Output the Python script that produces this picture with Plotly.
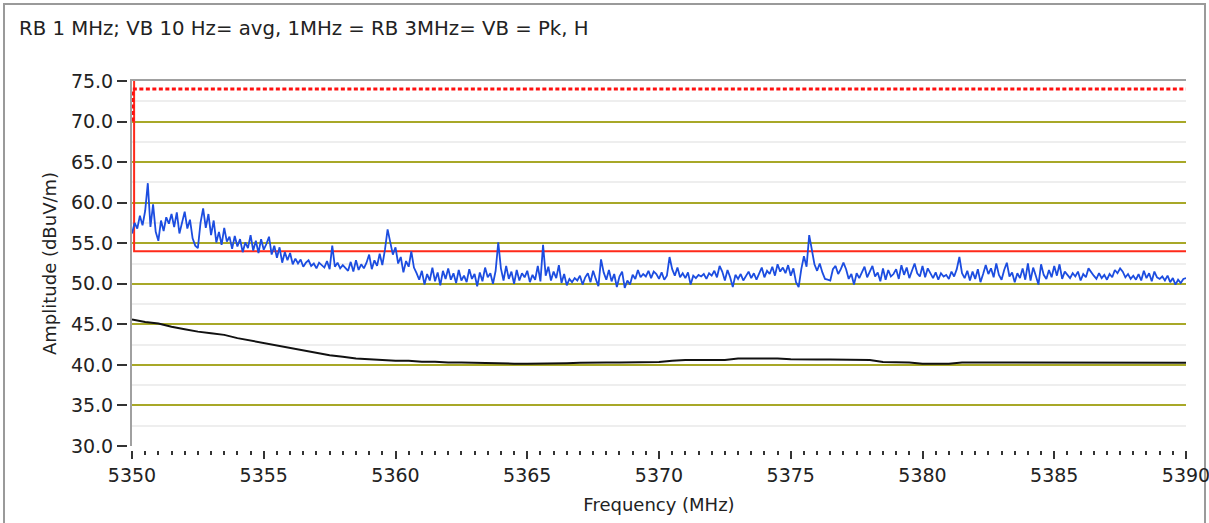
import numpy as np
import plotly.graph_objects as go

# ---- data -------------------------------------------------------------
# Peak sweep, 5350-5390 MHz in 0.1 MHz steps (dBuV/m)
peak_start_mhz = 5350.0
peak_step_mhz = 0.1
peak_level = [
    56.2, 57.5, 56.8, 58.4, 57.2, 59.0, 62.4, 57.0, 59.8, 56.4,
    55.3, 57.8, 56.5, 58.2, 57.4, 58.6, 57.0, 58.8, 56.2, 57.6,
    58.9, 56.8, 57.9, 55.6, 54.7, 54.4, 57.5, 59.3, 56.9, 58.6,
    56.0, 57.8, 55.1, 56.4, 54.8, 56.9, 55.2, 55.8, 54.3, 55.9,
    54.6, 55.5, 53.9, 55.1, 54.4, 56.0, 54.1, 55.3, 53.8, 55.5,
    54.2, 54.9, 55.8, 53.6, 54.7, 53.2, 54.5, 52.6, 53.9, 52.9,
    53.8, 52.4, 53.1, 52.5, 53.0, 52.1, 52.6, 52.9, 52.2, 52.5,
    51.9, 52.6, 52.3, 52.0, 52.8, 51.8, 54.7, 52.1, 52.6, 51.9,
    52.3, 52.0, 51.6, 52.7, 51.5, 52.9, 51.7, 52.4, 51.9, 52.6,
    53.6, 51.8, 52.9, 52.2, 53.7, 52.3, 54.2, 56.7, 55.0, 53.6,
    54.5, 52.5, 53.3, 51.4, 52.8, 52.1, 54.0, 52.0, 51.3, 50.5,
    51.6, 49.9, 51.2, 50.4, 52.0, 50.3, 51.4, 49.8, 51.6, 50.6,
    51.9, 50.5, 51.3, 50.1, 51.7, 50.4, 51.0, 50.2, 51.8, 50.6,
    51.2, 49.7, 51.4, 50.3, 52.0, 50.8, 51.3, 50.0, 51.6, 55.1,
    51.9, 50.4, 52.2, 50.6, 51.5, 50.0, 51.7, 50.4, 51.3, 50.8,
    51.6, 50.2, 51.1, 50.5, 52.2, 50.3, 54.8, 51.0, 52.1, 50.4,
    51.5, 50.7, 52.3, 50.1, 51.2, 49.8, 50.6, 50.2, 50.7, 50.4,
    51.0, 49.9, 50.8, 51.3, 50.2, 51.6, 50.6, 49.7, 53.0, 51.4,
    50.5, 51.7, 50.3, 51.2, 49.6, 50.9, 51.5, 49.5, 50.4, 49.9,
    51.1, 50.6, 51.7, 50.8, 51.2, 50.9, 51.6, 50.7, 51.5, 51.2,
    50.6, 51.4, 50.5, 51.0, 53.3, 51.8, 51.0, 52.0, 50.8, 51.3,
    50.7, 51.4, 49.9, 51.0, 50.7, 51.1, 50.9, 51.2, 50.6, 51.3,
    51.0, 51.6, 50.8, 52.2, 51.5, 50.4, 51.7, 50.8, 49.6, 51.1,
    50.6, 51.2, 50.4, 51.0, 51.5, 50.7, 51.3, 50.5, 51.2, 52.0,
    50.8, 51.6, 51.2, 52.1, 51.0, 52.4, 51.5, 52.0, 51.3, 52.3,
    51.0, 51.9, 50.2, 49.6, 51.8, 53.4, 52.1, 56.0, 54.2, 52.4,
    51.6, 52.5, 51.4, 50.6, 50.5, 50.4, 51.8, 52.2, 51.2, 51.8,
    52.6, 51.8, 50.6, 51.2, 49.9, 51.3, 50.7, 51.5, 52.1, 50.8,
    51.6, 52.2, 50.9, 51.4, 50.3, 51.9, 50.5, 51.7, 50.9, 51.2,
    51.8, 50.6, 52.3, 51.1, 52.0, 50.7, 51.6, 52.5, 51.3, 50.9,
    52.2, 50.8, 51.9, 51.2, 50.7, 51.4, 50.5, 51.3, 50.9, 51.1,
    50.6, 51.5, 50.9, 51.8, 53.3, 51.3, 50.7, 51.6, 50.4, 51.5,
    50.6, 51.8, 50.2, 51.2, 52.3, 51.2, 51.9, 50.8, 52.5, 51.1,
    50.5, 51.7, 52.6, 50.9, 51.4, 50.2, 51.3, 50.7, 51.9, 50.5,
    52.5, 50.4, 52.0, 51.0, 49.9, 52.4, 51.1, 50.6, 51.7, 50.8,
    52.2, 51.0, 52.4, 50.6, 51.5, 51.1, 50.7, 51.3, 50.9, 51.5,
    50.4, 51.2, 50.8, 51.9, 51.4, 51.0, 50.6, 51.3, 50.7, 51.1,
    50.5, 51.2, 50.8, 51.7, 51.3, 51.9, 51.5, 50.8, 51.2, 50.6,
    51.0, 50.5, 51.2, 50.4, 51.6, 50.7, 51.3, 50.3, 51.5, 50.8,
    50.6, 50.9, 50.4, 51.0, 50.2, 50.7, 49.9, 50.5, 50.1, 50.6,
    50.7,
]

# Average sweep, 0.5 MHz steps (dBuV/m)
avg_start_mhz = 5350.0
avg_step_mhz = 0.5
avg_level = [
    45.6, 45.3, 45.1, 44.7, 44.4, 44.1, 43.9, 43.7, 43.3, 43.0,
    42.7, 42.4, 42.1, 41.8, 41.5, 41.2, 41.0, 40.8, 40.7, 40.6,
    40.5, 40.5, 40.4, 40.4, 40.3, 40.3, 40.25, 40.2, 40.2, 40.15,
    40.15, 40.15, 40.2, 40.2, 40.25, 40.3, 40.3, 40.3, 40.3, 40.3,
    40.35, 40.5, 40.6, 40.6, 40.6, 40.6, 40.8, 40.8, 40.8, 40.8,
    40.7, 40.65, 40.65, 40.65, 40.65, 40.65, 40.6, 40.35, 40.3, 40.3,
    40.15, 40.15, 40.15, 40.3, 40.3, 40.3, 40.3, 40.3, 40.3, 40.25,
    40.25, 40.25, 40.25, 40.25, 40.25, 40.25, 40.25, 40.25, 40.25, 40.25,
    40.25,
]

# Limit lines
avg_limit_freq = [5350.08, 5350.08, 5390.0]
avg_limit_level = [75.0, 54.0, 54.0]
pk_limit_freq = [5350.03, 5350.03, 5390.0]
pk_limit_level = [70.0, 74.0, 74.0]

# Axis ticks
x_ticks = [5350, 5355, 5360, 5365, 5370, 5375, 5380, 5385, 5390]
y_ticks = [30, 35, 40, 45, 50, 55, 60, 65, 70, 75]
y_grid_major = [35, 40, 45, 50, 55, 60, 65, 70]
y_grid_minor = [32.5, 37.5, 42.5, 47.5, 52.5, 57.5, 62.5, 67.5, 72.5]

title_text = "RB 1 MHz; VB 10 Hz= avg, 1MHz = RB 3MHz= VB = Pk, H"

peak_freq = peak_start_mhz + peak_step_mhz * np.arange(len(peak_level))
avg_freq = avg_start_mhz + avg_step_mhz * np.arange(len(avg_level))

# ---- figure -------------------------------------------------------------
W, H = 1209, 523
ML, MR, MT, MB = 127, 23, 81, 73
PW, PH = W - ML - MR, H - MT - MB
XD0 = 5 / PW          # plot starts a few px right of the y tick axis
YD0 = 4 / PH          # plot ends a few px above the x tick axis

FONT = "DejaVu Sans"
TXT = "#222222"
X_RANGE = [5350, 5390]
Y_RANGE = [30, 75]

fig = go.Figure()

# limit lines live on the framed/gridded axes (x, y)
fig.add_trace(go.Scatter(
    x=avg_limit_freq, y=avg_limit_level, mode="lines",
    line=dict(color="#ff2a1a", width=2), hoverinfo="skip", showlegend=False,
    xaxis="x", yaxis="y",
))
fig.add_trace(go.Scatter(
    x=pk_limit_freq, y=pk_limit_level, mode="lines",
    line=dict(color="#ff1010", width=3, dash="4px,2.5px"),
    hoverinfo="skip", showlegend=False, xaxis="x", yaxis="y",
))
# sweeps live on the labelled axes (x2, y2) which share the same ranges
fig.add_trace(go.Scatter(
    x=avg_freq, y=avg_level, mode="lines",
    line=dict(color="#111111", width=2), showlegend=False,
    xaxis="x2", yaxis="y2",
))
fig.add_trace(go.Scatter(
    x=peak_freq, y=peak_level, mode="lines",
    line=dict(color="#1c4de0", width=1.8), showlegend=False,
    xaxis="x2", yaxis="y2",
))

fig.update_layout(
    width=W, height=H,
    margin=dict(l=ML, r=MR, t=MT, b=MB, pad=0, autoexpand=False),
    paper_bgcolor="white", plot_bgcolor="white",
    font=dict(family=FONT, size=18, color=TXT),
    # plot frame (top + left) and horizontal grid
    xaxis=dict(
        domain=[XD0, 1], range=X_RANGE, side="top", automargin=False,
        showline=True, linecolor="#a0a0a0", linewidth=2,
        showgrid=False, zeroline=False, ticks="", showticklabels=False,
    ),
    yaxis=dict(
        domain=[YD0, 1], range=Y_RANGE, automargin=False,
        showline=True, linecolor="#a0a0a0", linewidth=2,
        tickmode="array", tickvals=y_grid_major,
        showgrid=True, gridcolor="#a8a828", gridwidth=2,
        minor=dict(tickmode="array", tickvals=y_grid_minor,
                   showgrid=True, gridcolor="#eeeeee", gridwidth=2),
        zeroline=False, ticks="", showticklabels=False,
    ),
    # labelled tick axes, set slightly off the plot edges
    xaxis2=dict(
        overlaying="x", anchor="free", position=0, domain=[XD0, 1],
        range=X_RANGE, showline=False, showgrid=False, zeroline=False,
        automargin=False,
        tickmode="array", tickvals=x_ticks, ticks="outside", ticklen=8,
        tickwidth=2, tickcolor="#333333", ticklabeloverflow="allow",
        minor=dict(dtick=0.5, ticks="outside", ticklen=4, tickwidth=2,
                   tickcolor="#333333", showgrid=False),
        tickfont=dict(family=FONT, size=19, color=TXT),
        title=dict(text="Frequency (MHz)", standoff=13,
                   font=dict(family=FONT, size=18, color=TXT)),
    ),
    yaxis2=dict(
        overlaying="y", anchor="free", position=0, domain=[YD0, 1],
        range=Y_RANGE, showline=False, showgrid=False, zeroline=False,
        automargin=False,
        tickmode="array", tickvals=y_ticks, tickformat=".1f",
        ticks="outside", ticklen=10, tickwidth=2, tickcolor="#333333",
        tickfont=dict(family=FONT, size=19, color=TXT),
        title=dict(text="Amplitude (dBuV/m)", standoff=8,
                   font=dict(family=FONT, size=18, color=TXT)),
    ),
    annotations=[dict(
        text=title_text, xref="paper", yref="paper",
        x=(17 - ML) / PW, y=1 - (28 - MT) / PH,
        xanchor="left", yanchor="middle", showarrow=False,
        font=dict(family=FONT, size=19.7, color=TXT),
    )],
    shapes=[dict(
        type="rect", xref="paper", yref="paper", layer="below",
        x0=(4 - ML) / PW, x1=(1205 - ML) / PW,
        y0=1 - (540 - MT) / PH, y1=1 - (4 - MT) / PH,
        line=dict(color="#9a9a9a", width=2), fillcolor="rgba(0,0,0,0)",
    )],
)

fig.write_html("out.html")
